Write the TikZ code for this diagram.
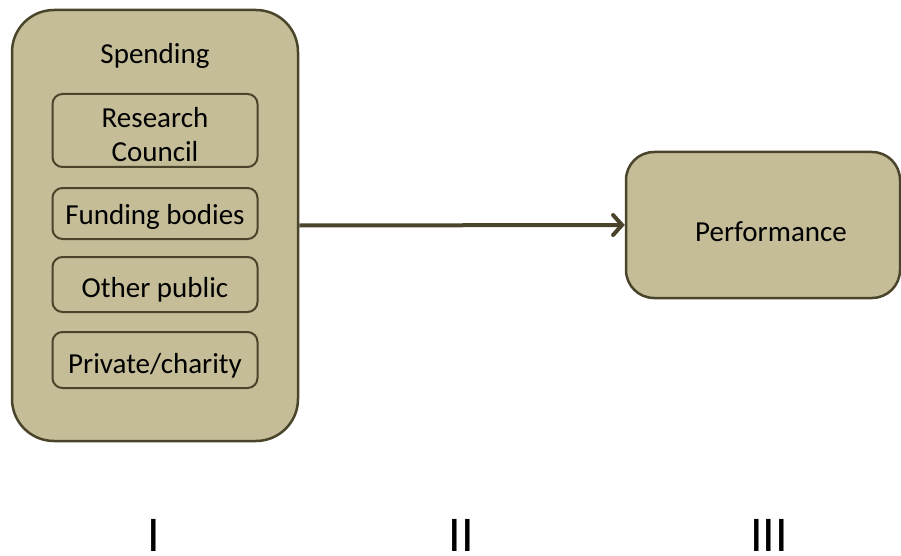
\documentclass[tikz,border=0pt]{standalone}
\usepackage{fontspec}
\setmainfont{Carlito}
\usetikzlibrary{arrows.meta}
\definecolor{tan}{HTML}{C4BD97}
\definecolor{olive}{HTML}{4A452A}
\tikzset{
  outerbox/.style={draw=olive, fill=tan, line width=2.5pt, rounded corners=42pt, inner sep=0pt},
  innerbox/.style={draw=olive, line width=2pt, rounded corners=10pt, inner sep=0pt, minimum width=205pt},
  label/.style={font=\fontsize{29}{34}\selectfont, inner sep=0pt, align=center},
  numeral/.style={font=\fontsize{50}{56}\selectfont, inner sep=0pt, text depth=0pt},
  flow/.style={draw=olive, line width=4pt, -{Straight Barb[length=9pt, width=20pt, line cap=round]}}
}
\begin{document}
\begin{tikzpicture}[x=1pt, y=-1pt]
  \useasboundingbox (0,0) rectangle (901,556);
  % spending group
  \node[outerbox, minimum width=286pt, minimum height=431pt] (spend) at (155,225.5) {};
  \node[label] (spendtitle) at (155,56) {Spending};
  \node[innerbox, minimum height=73pt] (rc) at (155,130.5) {};
  \node[innerbox, minimum height=51pt] (fb) at (155,213.5) {};
  \node[innerbox, minimum height=55pt] (op) at (155,284.5) {};
  \node[innerbox, minimum height=56pt] (pc) at (155,360) {};
  \node[label] (rctext) at (155,134.5) {Research\\Council};
  \node[label] (fbtext) at (155,217) {Funding bodies};
  \node[label] (optext) at (155,290) {Other public};
  \node[label] (pctext) at (155,366) {Private/charity};
  % performance
  \node[outerbox, rounded corners=28pt, minimum width=274pt, minimum height=146pt] (perf) at (763,225) {};
  \node[label] (perftext) at (771,232) {Performance};
  % flow
  \draw[flow] (spend.east) -- (perf.west);
  % stage numerals
  \node[numeral, anchor=base] (s1) at (154,551) {I};
  \node[numeral, anchor=base] (s2) at (461.5,551) {II};
  \node[numeral, anchor=base] (s3) at (769,551) {III};
\end{tikzpicture}
\end{document}
